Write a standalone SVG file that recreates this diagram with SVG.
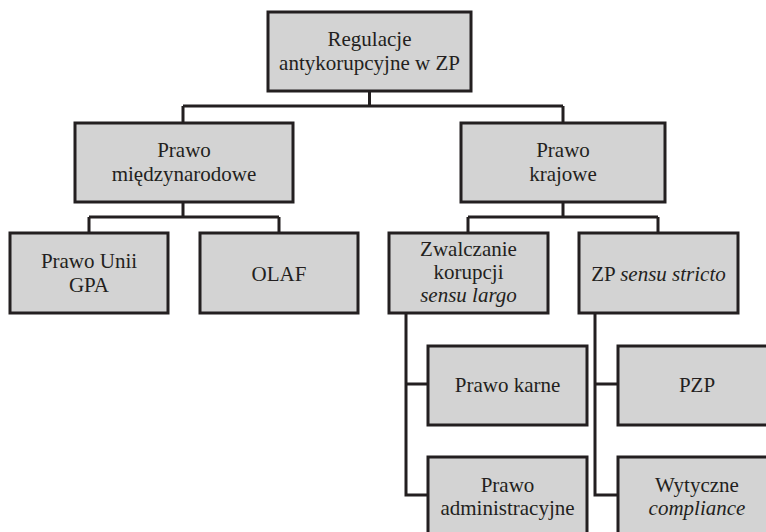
<svg xmlns="http://www.w3.org/2000/svg" width="766" height="532" viewBox="0 0 766 532">
<style>
.box{fill:#d3d3d3;stroke:#231f20;stroke-width:3}
text{font-family:'Liberation Serif','Times New Roman','DejaVu Serif',serif;font-size:21px;fill:#231f20;text-anchor:middle}
.i{font-style:italic}
.c{fill:none;stroke:#231f20;stroke-width:3}
</style>
<rect width="766" height="532" fill="#ffffff"/>
<g id="connectors">
<path class="c" d="M369.5 91V106M183 106H563M183 106V123M563 106V123"/>
<path class="c" d="M183 202V217M89 217H279M89 217V233M279 217V233"/>
<path class="c" d="M563 202V217M468 217H658M468 217V233M658 217V233"/>
<path class="c" d="M406 313V495H428M406 384H428"/>
<path class="c" d="M595 313V495H618M595 384H618"/>
</g>
<g id="root"><rect class="box" x="268" y="12" width="203" height="79"/>
<text x="369.5" y="46">Regulacje</text><text x="369.5" y="70">antykorupcyjne w ZP</text></g>
<g id="miedzynarodowe"><rect class="box" x="75" y="123" width="218" height="79"/>
<text x="184" y="157">Prawo</text><text x="184" y="181">międzynarodowe</text></g>
<g id="krajowe"><rect class="box" x="461" y="123" width="204" height="79"/>
<text x="563" y="157">Prawo</text><text x="563" y="181">krajowe</text></g>
<g id="unii"><rect class="box" x="10" y="233" width="158" height="80"/>
<text x="89" y="268">Prawo Unii</text><text x="89" y="292">GPA</text></g>
<g id="olaf"><rect class="box" x="200" y="233" width="158" height="80"/>
<text x="279" y="281">OLAF</text></g>
<g id="zwalczanie"><rect class="box" x="389" y="233" width="159" height="80"/>
<text x="468.5" y="256">Zwalczanie</text><text x="468.5" y="279">korupcji</text><text class="i" x="468.5" y="302">sensu largo</text></g>
<g id="zp"><rect class="box" x="579" y="233" width="159" height="80"/>
<text x="658.5" y="281">ZP <tspan class="i">sensu stricto</tspan></text></g>
<g id="karne"><rect class="box" x="428" y="346" width="159" height="79"/>
<text x="507.5" y="392">Prawo karne</text></g>
<g id="administracyjne"><rect class="box" x="428" y="457" width="159" height="80"/>
<text x="507.5" y="492">Prawo</text><text x="507.5" y="515">administracyjne</text></g>
<g id="pzp"><rect class="box" x="618" y="346" width="159" height="79"/>
<text x="697" y="392">PZP</text></g>
<g id="wytyczne"><rect class="box" x="618" y="457" width="159" height="80"/>
<text x="697" y="492">Wytyczne</text><text class="i" x="697" y="515">compliance</text></g>
</svg>
